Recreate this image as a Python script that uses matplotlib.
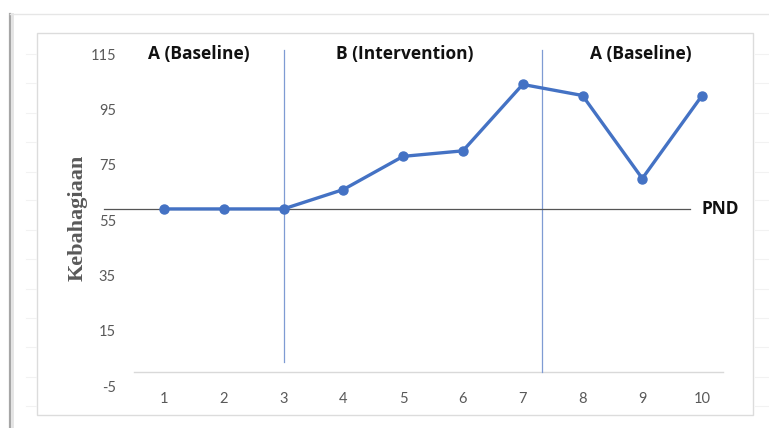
import matplotlib.pyplot as plt
from matplotlib.patches import Rectangle
from matplotlib.lines import Line2D

plt.rcParams["axes.unicode_minus"] = False

sessions = [1, 2, 3, 4, 5, 6, 7, 8, 9, 10]
happiness = [59, 59, 59, 66, 78, 80, 104, 100, 70, 100]
yticks = [-5, 15, 35, 55, 75, 95, 115]
pnd_level = 59
phase_breaks = [3, 7.33]
phase_names = ["A (Baseline)", "B (Intervention)", "A (Baseline)"]
phase_centers = [1.58, 5.03, 8.98]

W, H = 769, 428
fig = plt.figure(figsize=(W / 100, H / 100), dpi=100)
fig.patch.set_facecolor("white")

# outer and inner frames, drawn in pixel-ish figure coordinates
def fx(px):
    return px / W

def fy(py):
    return 1 - py / H

fig.add_artist(Line2D([fx(10), fx(10)], [fy(14), 0], color="#a6a6a6", lw=1.6))
fig.add_artist(Line2D([fx(12), fx(12)], [fy(14), 0], color="#e3e3e3", lw=2.0))
fig.add_artist(Line2D([fx(10), 1], [fy(14), fy(14)], color="#e6e6e6", lw=1.0))
fig.add_artist(Rectangle((fx(37), fy(415)), fx(753) - fx(37), fy(33) - fy(415),
                         fill=False, ec="#dcdcdc", lw=1.0))
# faint grid stubs of the background layer
for py in [54, 83, 113, 142, 172, 200, 230, 259, 289, 318, 347, 377, 406]:
    fig.add_artist(Line2D([fx(26), fx(36)], [fy(py), fy(py)], color="#f2f2f2", lw=0.8))
    fig.add_artist(Line2D([fx(755), fx(769)], [fy(py), fy(py)], color="#f2f2f2", lw=0.8))

ax = fig.add_axes([fx(134), fy(386), fx(732) - fx(134), fy(54) - fy(386)])
ax.set_xlim(0.5, 10.5)
ax.set_ylim(-5, 115)
for s in ax.spines.values():
    s.set_visible(False)
ax.set_facecolor("none")

ax.set_yticks(yticks)
ax.set_xticks(sessions)
ax.tick_params(axis="y", length=0, pad=13, labelsize=10.5, labelcolor="#595959")
ax.tick_params(axis="x", length=0, pad=4, labelsize=10.5, labelcolor="#595959")
for lab in ax.get_xticklabels() + ax.get_yticklabels():
    lab.set_family("Lato")

# horizontal category axis crosses at zero
ax.plot([0.5, 10.35], [0, 0], color="#d9d9d9", lw=1.0, clip_on=False)

# phase change lines
ax.plot([phase_breaks[0]] * 2, [3.7, 116.5], color="#7f9bd3", lw=0.9, clip_on=False)
ax.plot([phase_breaks[1]] * 2, [0, 116.5], color="#7f9bd3", lw=0.9, clip_on=False)

# PND reference line
ax.plot([0.0, 9.8], [pnd_level, pnd_level], color="#555555", lw=0.9, clip_on=False)
ax.text(9.99, pnd_level, "PND", ha="left", va="center", fontsize=12.5,
        fontweight="bold", family="Open Sans", color="#111111")

ax.plot(sessions, happiness, color="#4472c4", lw=2.4, marker="o", markersize=6.5,
        zorder=5, clip_on=False)

for xc, name in zip(phase_centers, phase_names):
    ax.text(xc, 115, name, ha="center", va="center", fontsize=12.5,
            fontweight="bold", family="Open Sans", color="#111111")

fig.text(fx(78), fy(218), "Kebahagiaan", rotation=90, ha="center", va="center",
         fontsize=16, fontweight="bold", family="Liberation Serif", color="#595959")

fig.savefig("out.png", dpi=100)
